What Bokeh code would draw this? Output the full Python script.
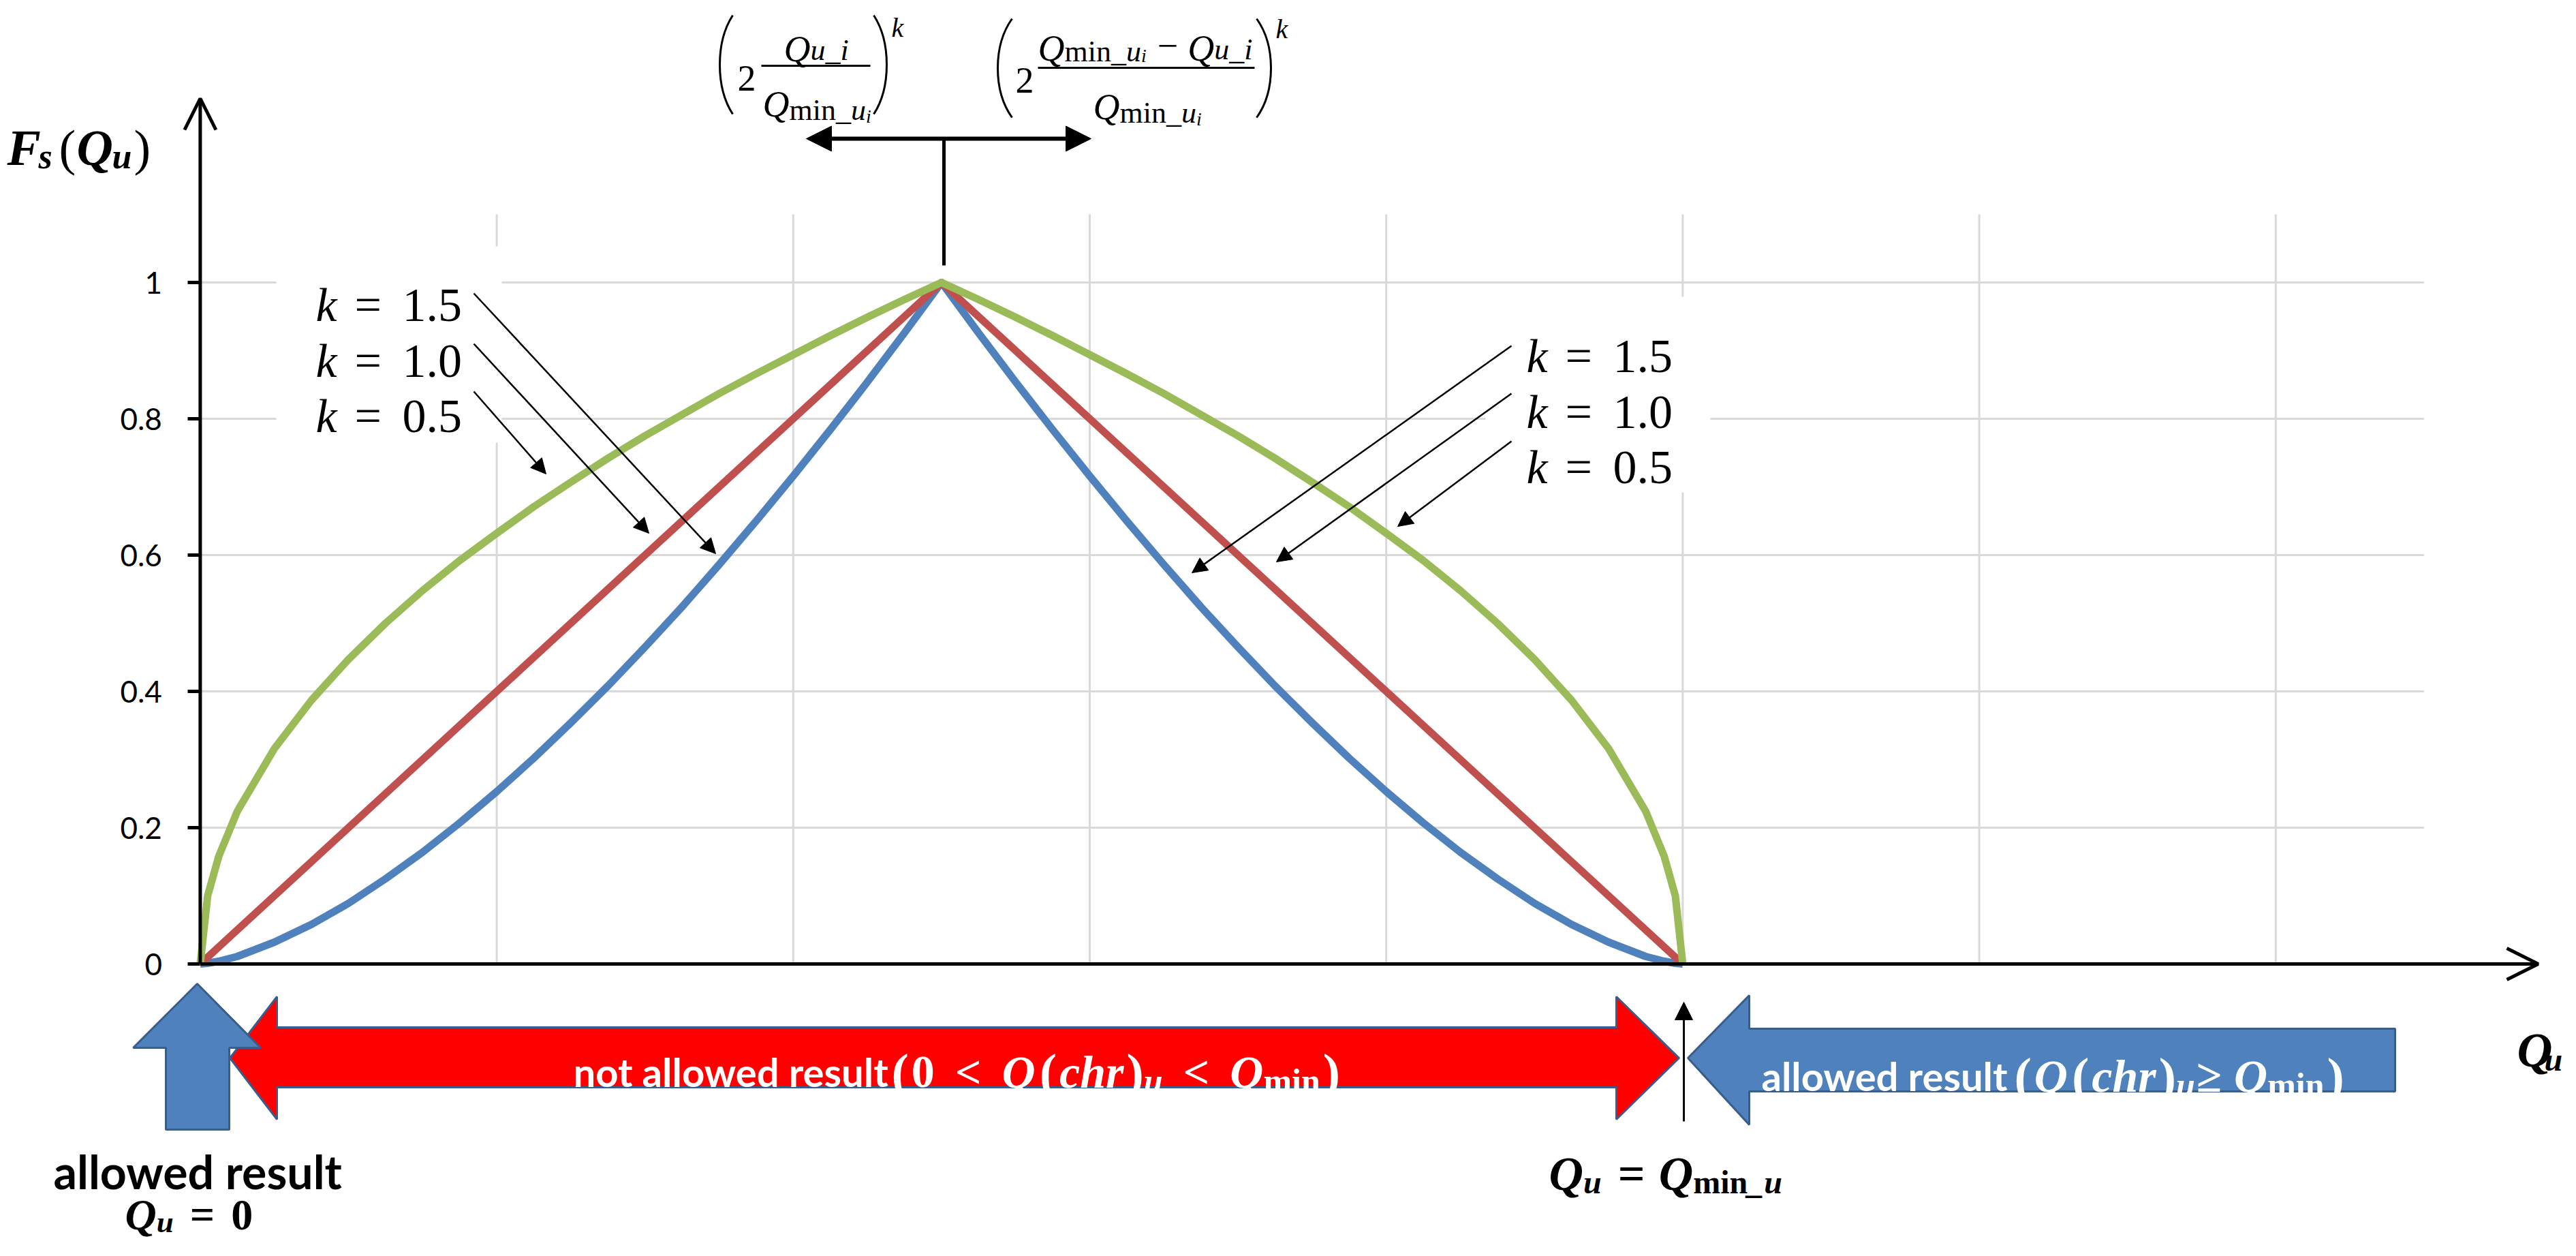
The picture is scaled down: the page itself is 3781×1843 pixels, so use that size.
from bokeh.plotting import figure
from bokeh.models import Range1d, LinearAxis, FixedTicker, Arrow, NormalHead, OpenHead
from bokeh.core.properties import value
from bokeh.embed import file_html
from bokeh.resources import INLINE

# ---------------- data ----------------
q_u = [0, 0.025, 0.0625, 0.125, 0.25, 0.375, 0.5, 0.625, 0.75, 0.875, 1.0, 1.125, 1.25,
       1.375, 1.5, 1.625, 1.75, 1.875, 2.0, 2.125, 2.25, 2.375, 2.5,
       2.625, 2.75, 2.875, 3.0, 3.125, 3.25, 3.375, 3.5, 3.625, 3.75, 3.875, 4.0,
       4.125, 4.25, 4.375, 4.5, 4.625, 4.75, 4.875, 4.9375, 4.975, 5.0]
fs_k15 = [0, 0.001, 0.004, 0.011, 0.032, 0.058, 0.089, 0.125, 0.164, 0.207, 0.253, 0.302,
          0.354, 0.408, 0.465, 0.524, 0.586, 0.650, 0.716, 0.784, 0.854, 0.926, 1.0,
          0.926, 0.854, 0.784, 0.716, 0.650, 0.586, 0.524, 0.465, 0.408, 0.354, 0.302,
          0.253, 0.207, 0.164, 0.125, 0.089, 0.058, 0.032, 0.011, 0.004, 0.001, 0]
fs_k10 = [0, 0.01, 0.025, 0.05, 0.1, 0.15, 0.2, 0.25, 0.3, 0.35, 0.4, 0.45, 0.5, 0.55,
          0.6, 0.65, 0.7, 0.75, 0.8, 0.85, 0.9, 0.95, 1.0,
          0.95, 0.9, 0.85, 0.8, 0.75, 0.7, 0.65, 0.6, 0.55, 0.5, 0.45, 0.4, 0.35, 0.3,
          0.25, 0.2, 0.15, 0.1, 0.05, 0.025, 0.01, 0]
fs_k05 = [0, 0.100, 0.158, 0.224, 0.316, 0.387, 0.447, 0.5, 0.548, 0.592, 0.632, 0.671,
          0.707, 0.742, 0.775, 0.806, 0.837, 0.866, 0.894, 0.922, 0.949, 0.975, 1.0,
          0.975, 0.949, 0.922, 0.894, 0.866, 0.837, 0.806, 0.775, 0.742, 0.707, 0.671,
          0.632, 0.592, 0.548, 0.5, 0.447, 0.387, 0.316, 0.224, 0.158, 0.100, 0]
k_values = ["1.5", "1.0", "0.5"]
y_ticks = [0, 0.2, 0.4, 0.6, 0.8, 1.0]
y_tick_labels = ["0", "0.2", "0.4", "0.6", "0.8", "1"]
x_grid = [1, 2, 3, 4, 5, 6, 7]
y_grid = [0.2, 0.4, 0.6, 0.8, 1.0]
x_plot_max = 7.5
y_plot_max = 1.1

BLUE, RED, GREEN = "#4F81BD", "#C0504D", "#9BBB59"
GRID = "#D9D9D9"
SERIF = "Liberation Serif"
SANS = "Lato"

# ---------------- canvas / mapping ----------------
W, H = 3765, 1827
X0, SX = 301.4, 435.2     # reference pixel of x=0, pixels per unit
Y0, SY = 1422.0, 1000.0   # reference pixel of y=0, pixels per unit


def RX(px):
    return (px - X0) / SX


def RY(py):
    return (Y0 - py) / SY


p = figure(width=W, height=H, output_backend="svg", toolbar_location=None,
           x_range=Range1d(RX(8), RX(8 + W)), y_range=Range1d(RY(8 + H), RY(8)),
           x_axis_location=None, y_axis_location=None, min_border=0)
p.outline_line_color = None
p.background_fill_color = "white"
p.border_fill_color = "white"
for g in p.grid:
    g.visible = False

STYLE = {"R": "normal", "I": "italic", "B": "bold", "BI": "bold italic"}
TW = {
    "R": {" ": 250, "(": 333, ")": 333, ".": 250, "=": 564, "<": 564, "≥": 549,
          "−": 564, "_": 500, "m": 778, "i": 278, "n": 500},
    "I": {" ": 250, "Q": 722, "u": 500, "_": 500, "i": 278, "k": 444, "c": 444,
          "h": 500, "r": 389},
    "B": {"=": 570, "<": 570, "≥": 549, "m": 833, "i": 278, "n": 556, "(": 333, ")": 333},
    "BI": {"Q": 722, "u": 556, "F": 667, "s": 389, "_": 500, "k": 500, "c": 444,
           "h": 556, "r": 389},
}


def put(s, px, py, size, st="R", color="black", font=SERIF, align="left"):
    p.text(x=[RX(px)], y=[RY(py)], text=[s], text_font=value(font),
           text_font_size=f"{size}px", text_font_style=STYLE[st],
           text_color=color, text_align=align, text_baseline="alphabetic")


def seq(x0, base, pieces, color="black"):
    x = x0
    for pc in pieces:
        s, size, st = pc[:3]
        dy = pc[3] if len(pc) > 3 else 0
        gap = pc[4] if len(pc) > 4 else 0
        x += gap
        put(s, x, base + dy, size, st, color)
        x += sum(TW[st].get(c, 500) for c in s) / 1000 * size
    return x


def paren(xe, xm, top, bot):
    xc = (4 * xm - xe) / 3
    h = bot - top
    p.bezier(x0=[RX(xe)], y0=[RY(top)], x1=[RX(xe)], y1=[RY(bot)],
             cx0=[RX(xc)], cy0=[RY(top + 0.27 * h)], cx1=[RX(xc)], cy1=[RY(bot - 0.27 * h)],
             line_color="black", line_width=3)


# ---------------- grid ----------------
p.segment(x0=x_grid, y0=[0] * len(x_grid), x1=x_grid, y1=[y_plot_max] * len(x_grid),
          line_color=GRID, line_width=3)
p.segment(x0=[0] * len(y_grid), y0=y_grid, x1=[x_plot_max] * len(y_grid), y1=y_grid,
          line_color=GRID, line_width=3)

# white label boxes
p.quad(left=[RX(413), RX(2188)], right=[RX(744), RX(2518)],
       top=[RY(369), RY(443)], bottom=[RY(657), RY(730)],
       fill_color="white", line_color=None)

# ---------------- series ----------------
for ys, col in ((fs_k15, BLUE), (fs_k10, RED), (fs_k05, GREEN)):
    p.line(q_u, ys, line_color=col, line_width=11, line_join="round")

# ---------------- axes ----------------
yaxis = LinearAxis(fixed_location=0, ticker=FixedTicker(ticks=y_ticks),
                   major_label_overrides={t: l for t, l in zip(y_ticks, y_tick_labels)})
yaxis.axis_line_color = None
yaxis.major_tick_line_color = "black"
yaxis.major_tick_line_width = 5
yaxis.major_tick_out = 18
yaxis.major_tick_in = 0
yaxis.minor_tick_line_color = None
yaxis.major_label_text_font = SANS
yaxis.major_label_text_font_size = "44px"
yaxis.major_label_text_color = "black"
yaxis.major_label_standoff = 38
p.add_layout(yaxis, "left")

p.add_layout(Arrow(x_start=0, y_start=0, x_end=0, y_end=RY(152), line_width=5,
                   end=OpenHead(size=46, line_width=5, line_color="black")))
p.add_layout(Arrow(x_start=0, y_start=0, x_end=RX(3733), y_end=0, line_width=5,
                   end=OpenHead(size=46, line_width=5, line_color="black")))

# ---------------- bottom block arrows ----------------
red_x = [345, 414, 414, 2380, 2380, 2472, 2380, 2380, 414, 414]
red_y = [1560, 1470, 1515, 1515, 1470, 1560, 1650, 1603, 1603, 1650]
p.patch([RX(v) for v in red_x], [RY(v) for v in red_y], fill_color="#FF0000",
        line_color="#385D8A", line_width=3)
up_x = [297, 390, 344, 344, 251, 251, 203]
up_y = [1451, 1545, 1545, 1665, 1665, 1545, 1545]
p.patch([RX(v) for v in up_x], [RY(v) for v in up_y], fill_color=BLUE,
        line_color="#385D8A", line_width=3)
bl_x = [2485, 2575, 2575, 3523, 3523, 2575, 2575]
bl_y = [1560, 1468, 1517, 1517, 1609, 1609, 1658]
p.patch([RX(v) for v in bl_x], [RY(v) for v in bl_y], fill_color=BLUE,
        line_color="#385D8A", line_width=3)

p.add_layout(Arrow(x_start=RX(2479), y_start=RY(1653), x_end=RX(2479), y_end=RY(1478),
                   line_width=3, end=NormalHead(size=26, fill_color="black", line_color="black")))

# ---------------- top formula + T arrow ----------------
p.segment(x0=[RX(1393)], y0=[RY(397)], x1=[RX(1393)], y1=[RY(211)], line_color="black", line_width=5)
p.add_layout(Arrow(x_start=RX(1191), y_start=RY(211), x_end=RX(1609), y_end=RY(211), line_width=6,
                   start=NormalHead(size=37, fill_color="black", line_color="black"),
                   end=NormalHead(size=37, fill_color="black", line_color="black")))

# left formula
paren(1083, 1064, 30, 175)
put("2", 1090, 122, 54)
p.segment(x0=[RX(1125)], y0=[RY(104)], x1=[RX(1285)], y1=[RY(104)], line_color="black", line_width=3)
seq(1158, 79, [("Q", 54, "I"), ("u_i", 44, "I", 2)])
seq(1127, 160, [("Q", 54, "I"), ("min", 44, "R", 9), ("_u", 44, "I", 9), ("i", 28, "I", 18)])
paren(1290, 1309, 30, 175)
put("k", 1316, 48, 40, "I")

# right formula
paren(1493, 1472, 35, 180)
put("2", 1498, 125, 54)
p.segment(x0=[RX(1531)], y0=[RY(107)], x1=[RX(1849)], y1=[RY(107)], line_color="black", line_width=3)
seq(1531, 78, [("Q", 54, "I"), ("min", 44, "R", 5), ("_u", 44, "I", 5), ("i", 28, "I", 11),
               ("−", 54, "R", -4, 16), ("Q", 54, "I", 0, 14), ("u_i", 44, "I", 2)])
seq(1612, 164, [("Q", 54, "I"), ("min", 44, "R", 9), ("_u", 44, "I", 9), ("i", 28, "I", 18)])
paren(1852, 1873, 35, 180)
put("k", 1880, 50, 40, "I")

# ---------------- k labels and pointer arrows ----------------
for kv, base in zip(k_values, (455, 537, 618)):
    put("k", 471, base, 70, "I")
    put("=", 528, base, 70)
    put(kv, 598, base, 70)
for kv, base in zip(k_values, (530, 612, 693)):
    put("k", 2248, base, 70, "I")
    put("=", 2305, base, 70)
    put(kv, 2375, base, 70)

pointers = [((703, 438), (1058, 820)), ((703, 512), (960, 790)), ((703, 582), (809, 703)),
            ((2226, 515), (1757, 848)), ((2226, 585), (1881, 832)), ((2226, 655), (2059, 780))]
for (sx, sy), (ex, ey) in pointers:
    p.add_layout(Arrow(x_start=RX(sx), y_start=RY(sy), x_end=RX(ex), y_end=RY(ey), line_width=2.5,
                       end=NormalHead(size=22, fill_color="black", line_color="black", line_width=1)))

# ---------------- axis titles ----------------
put("F", 18, 224, 74, "BI")
put("s", 64, 237, 52, "BI")
put("(", 94, 224, 74)
put("Q", 120, 224, 74, "BI")
put("u", 172, 237, 52, "BI")
put(")", 204, 224, 74)

put("Q", 3702, 1548, 72, "BI")
put("u", 3742, 1562, 48, "BI")

# ---------------- texts in / below block arrows ----------------
put("not allowed result", 849, 1580, 58, "B", "white", SANS)
seq(1316, 1580, [("(", 76, "B"), ("0", 68, "B", 0, 4), ("<", 68, "B", 0, 30), ("Q", 68, "BI", 0, 30),
                 ("(", 76, "B", 0, 6), ("chr", 68, "BI", 0, 4), (")", 76, "B", 0, 4),
                 ("u", 50, "BI", 13), ("<", 68, "B", 0, 30), ("Q", 68, "BI", 0, 30),
                 ("min", 50, "B", 13), (")", 76, "B", 0, 4)], color="white")

put("allowed result", 2593, 1586, 58, "B", "white", SANS)
seq(2964, 1586, [("(", 76, "B"), ("Q", 68, "BI", 0, 4), ("(", 76, "B", 0, 6), ("chr", 68, "BI", 0, 4),
                 (")", 76, "B", 0, 4), ("u", 50, "BI", 13), ("≥", 68, "B", 0, 2),
                 ("Q", 68, "BI", 0, 18), ("min", 50, "B", 13), (")", 76, "B", 0, 4)], color="white")

put("allowed result", 86, 1726, 68, "B", "black", SANS)
seq(191, 1790, [("Q", 64, "BI"), ("u", 45, "BI", 10), ("=", 64, "B", 0, 24), ("0", 64, "B", 0, 24)])
seq(2281, 1730, [("Q", 70, "BI"), ("u", 48, "BI", 12), ("=", 70, "B", 0, 24), ("Q", 70, "BI", 0, 20),
                 ("min", 48, "B", 12), ("_u", 48, "BI", 12)])

open("out.html", "w").write(file_html(p, INLINE))
